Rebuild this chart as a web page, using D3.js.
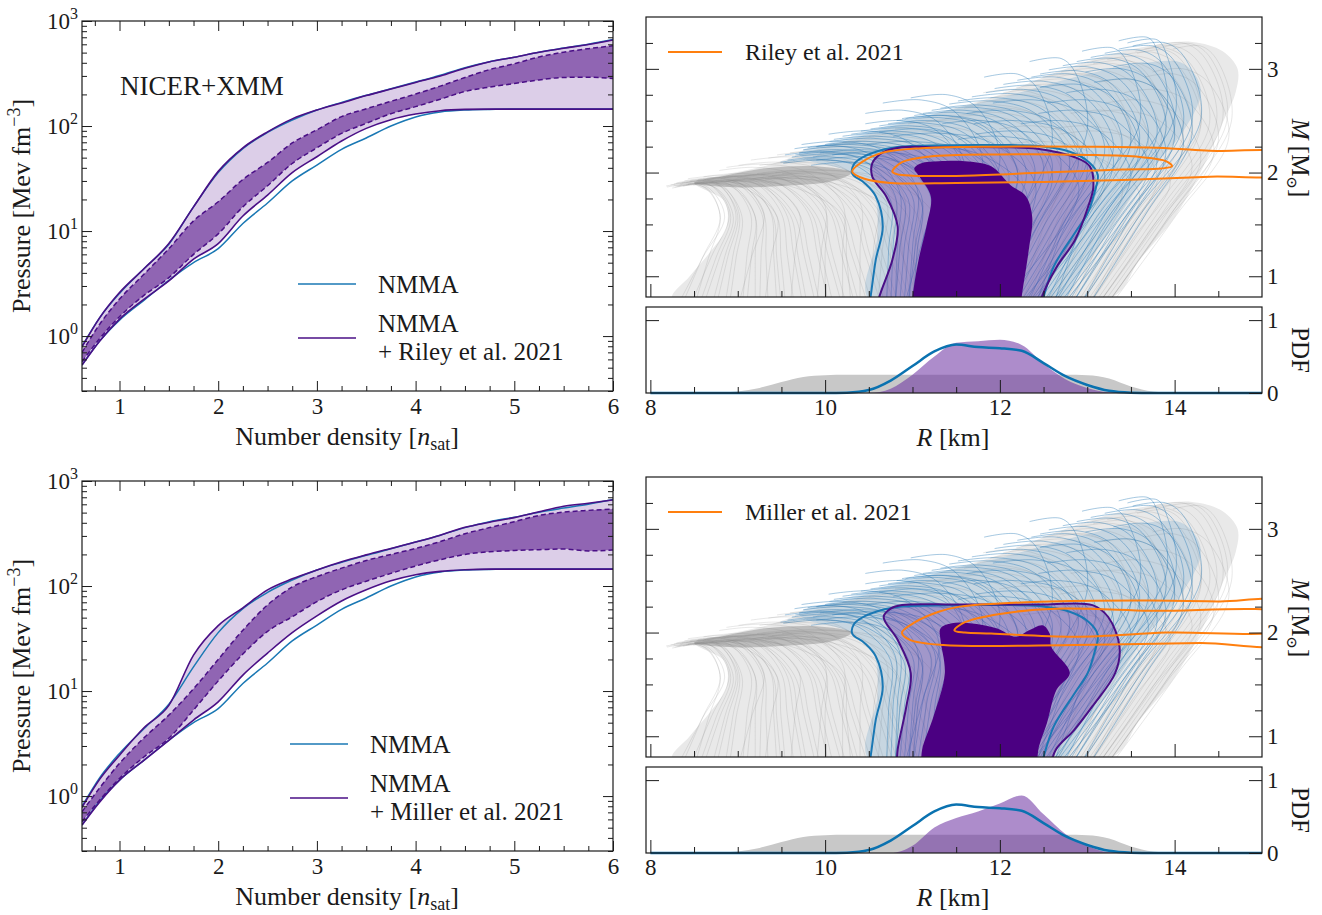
<!DOCTYPE html>
<html><head><meta charset="utf-8">
<script src="https://cdn.jsdelivr.net/npm/d3@7"></script>
<style>
body{margin:0;background:#fff}
svg text{font-family:"Liberation Serif","Tinos","DejaVu Serif",serif;fill:#1a1a1a}
</style>
</head><body>
<svg id="c" width="1322" height="915"></svg>
<script>
// ---------------- EOS data (pressure in MeV fm^-3 vs n/n_sat) ----------------
const nGrid = [0.62,0.8,1.0,1.25,1.5,1.75,2.0,2.25,2.5,2.75,3.0,3.25,3.5,3.75,4.0,4.25,4.5,4.75,5.0,5.25,5.5,5.75,6.0];
const nmmaUpper = [0.80,1.5,2.55,4.4,7.5,17,36,61,87,114,142,168,196,226,262,305,360,410,452,505,552,600,665];
const nmmaLower = [0.53,0.9,1.42,2.2,3.4,5.0,6.8,11.8,18.5,30,42.5,60,77,100,122,136,142,144,145,145,145,145,145];
const rileyUpper95 = [0.79,1.5,2.6,4.4,7.6,17,37,62,88,117,142,166,195,225,260,299,355,410,452,505,550,598,660];
const rileyUpper68 = [0.70,1.3,2.25,3.9,6.8,12.5,19,31,45,69,92,123,146,172,202,240,290,345,392,455,505,545,580];
const rileyLower68 = [0.57,0.95,1.53,2.45,3.6,6.0,9.4,17,27,44,62,85,106,131,153,180,213,235,254,275,290,292,283];
const rileyLower95 = [0.53,0.9,1.45,2.25,3.35,5.4,7.6,13.9,22,36,51,72,95,115,130,140,144,145,145,145,145,145,145];
const millerUpper95 = [0.78,1.45,2.45,4.5,7.3,22,42,62,92,117,142,170,198,228,262,305,362,405,448,510,575,615,660];
const millerUpper68 = [0.71,1.2,2.05,3.6,5.9,10.5,20,38,66,98,123,148,175,200,228,265,315,360,410,470,505,525,540];
const millerLower68 = [0.57,0.92,1.47,2.37,3.55,6.6,12.5,22.5,37,51,71,92,111,132,155,178,200,212,218,222,225,216,220];
const millerLower95 = [0.53,0.88,1.42,2.2,3.4,5.3,7.9,14.2,23,36,52,72,92,112,128,138,143,145,145,145,145,145,145];

const eosXTicks = [1,2,3,4,5,6];
const eosYTicks = [1,10,100,1000];
const eosYTickExp = ["0","1","2","3"];

// ---------------- M-R data ----------------
// each curve: [R at bottom, R at bulge, R at max mass, max mass]
const grayCurves = [
 [8.3,8.85,8.5,1.9],[8.45,8.9,8.55,1.91],[8.6,8.95,8.6,1.89],[8.75,9.0,8.6,1.92],[8.9,9.05,8.65,1.9],
 [9.05,9.15,8.7,1.93],[9.2,9.2,8.75,1.91],[9.35,9.3,8.8,1.94],[9.5,9.4,8.8,1.92],[9.65,9.5,8.9,1.95],
 [9.8,9.6,8.9,1.93],[9.95,9.7,9.0,1.96],[10.1,9.85,9.1,1.94],[10.25,9.95,9.2,1.97],[10.4,10.1,9.3,1.95],
 [10.55,10.2,9.4,1.98],[10.7,10.35,9.5,2.0],[10.85,10.5,9.6,1.97],[11.0,10.6,9.7,2.01],[11.2,10.8,9.8,1.99],
 [11.4,11.0,9.9,2.03],[9.0,9.3,8.75,1.95],[9.6,9.7,8.85,1.97],[10.0,10.0,9.05,1.99],[8.5,8.8,8.55,1.88],
 [9.3,9.45,8.7,1.9],[10.3,10.2,9.0,1.92],[11.0,10.8,9.4,1.95],
 [8.35,8.8,8.5,1.89],[8.55,8.92,8.58,1.9],[8.7,8.98,8.62,1.93],[8.85,9.02,8.66,1.92],[9.1,9.2,8.72,1.9],
 [9.25,9.28,8.76,1.93],[9.45,9.38,8.82,1.95],[9.55,9.45,8.86,1.91],[9.75,9.55,8.92,1.96],[9.9,9.65,8.98,1.92],
 [10.05,9.8,9.05,1.97],[10.2,9.9,9.15,1.93],[10.35,10.05,9.25,1.98],[10.5,10.15,9.35,1.94],[10.65,10.3,9.45,1.99],
 [10.8,10.45,9.55,1.95],[10.95,10.55,9.65,2.02],[11.1,10.7,9.75,1.96],[11.3,10.9,9.85,2.0],[11.6,11.2,10.0,2.02],
 [10.2,10.2,9.3,2.08],[10.5,10.6,9.6,2.15],[10.8,10.9,9.9,2.2],[11.1,11.2,10.2,2.25],[11.3,11.5,10.5,2.3],
 [11.6,11.8,10.8,2.35],[11.8,12.1,11.1,2.4],[12.0,12.4,11.4,2.5],[12.2,12.7,11.8,2.55],[11.0,11.1,10.0,2.12],
 [11.5,11.6,10.4,2.2],[9.9,10.0,9.2,2.05],[10.6,10.7,9.7,2.1],[11.9,12.0,10.9,2.3],[12.4,12.9,12.1,2.62],
 [10.4,10.4,9.45,2.1],[10.7,10.8,9.8,2.17],[11.0,11.05,10.05,2.22],[11.2,11.35,10.35,2.27],[11.45,11.65,10.65,2.32],
 [11.7,11.95,10.95,2.38],[11.9,12.25,11.25,2.45],[12.1,12.55,11.6,2.52],[12.3,12.85,11.95,2.58],
 [12.0,12.8,12.0,2.65],[12.2,13.1,12.3,2.75],[12.4,13.4,12.6,2.85],[12.6,13.7,12.9,2.95],[12.8,14.0,13.3,3.05],
 [12.9,14.2,13.6,3.12],[13.0,14.4,13.9,3.2],[13.1,14.55,14.1,3.25],[13.2,14.65,14.3,3.22],[12.5,13.9,13.4,3.1],
 [12.7,14.3,13.9,3.18],[11.8,12.9,12.2,2.8],[12.3,13.5,13.0,2.95],[13.0,14.1,13.5,2.9],[13.1,14.3,13.6,2.7],
 [13.2,14.5,14.0,2.95],[12.9,13.9,13.2,2.6],[12.6,13.2,12.4,2.45],[13.0,13.8,13.0,2.45],[12.8,13.4,12.5,2.3],
 [12.1,12.95,12.15,2.7],[12.3,13.25,12.45,2.8],[12.5,13.55,12.75,2.9],[12.7,13.85,13.1,3.0],[12.85,14.1,13.45,3.08],
 [12.95,14.3,13.75,3.16],[13.05,14.48,14.0,3.22],[13.15,14.6,14.2,3.24],[13.25,14.62,14.1,3.0],[13.2,14.45,13.8,2.8],
 [13.1,14.2,13.4,2.6],[13.0,13.95,13.1,2.4],[12.9,13.6,12.7,2.2]
];
const blueCurves = [
 [10.8,10.9,10.0,2.12],[10.9,11.0,10.1,2.18],[11.0,11.2,10.2,2.22],[11.1,11.3,10.3,2.27],[11.2,11.5,10.5,2.3],
 [11.3,11.6,10.6,2.35],[11.4,11.8,10.8,2.4],[11.5,11.9,11.0,2.45],[11.6,12.1,11.2,2.5],[11.7,12.3,11.4,2.55],
 [11.8,12.5,11.6,2.6],[11.9,12.7,11.8,2.65],[12.0,12.9,12.0,2.72],[12.1,13.1,12.3,2.8],[12.2,13.3,12.5,2.88],
 [12.3,13.5,12.8,2.95],[12.4,13.7,13.0,3.02],[12.5,13.9,13.3,3.1],[12.6,14.1,13.6,3.18],[12.7,14.3,13.9,3.25],
 [12.2,13.9,13.7,3.3],[11.0,11.1,10.3,2.1],[11.3,11.4,10.4,2.15],[11.6,11.7,10.6,2.2],[11.9,12.1,11.0,2.3],
 [12.1,12.4,11.3,2.38],[11.5,12.0,11.1,2.42],[12.0,12.6,11.8,2.5],[12.3,13.0,12.1,2.6],[12.5,13.3,12.4,2.7],
 [12.6,13.6,12.9,2.85],[12.8,14.0,13.4,3.0],[11.2,11.6,10.9,2.6],[11.4,12.0,11.4,2.75],[11.7,12.6,12.2,2.95],
 [11.9,13.0,12.7,3.1],[10.9,11.3,10.5,2.4],[11.1,11.6,10.9,2.5],[12.4,13.2,12.2,2.5],[12.0,12.3,11.2,2.25],
 [10.85,10.95,10.05,2.15],[10.95,11.1,10.15,2.2],[11.05,11.25,10.25,2.25],[11.15,11.4,10.4,2.28],[11.25,11.55,10.55,2.33],
 [11.35,11.7,10.7,2.38],[11.45,11.85,10.9,2.43],[11.55,12.0,11.1,2.48],[11.65,12.2,11.3,2.53],[11.75,12.4,11.5,2.58],
 [11.85,12.6,11.7,2.63],[11.95,12.8,11.9,2.69],[12.05,13.0,12.15,2.76],[12.15,13.2,12.4,2.84],[12.25,13.4,12.65,2.92],
 [12.35,13.6,12.9,2.98],[12.45,13.8,13.15,3.06],[12.55,14.0,13.45,3.14],[12.65,14.2,13.75,3.22],[12.3,14.0,13.8,3.28],
 [12.0,13.6,13.3,3.2],[12.8,13.8,13.0,2.7],[12.7,13.5,12.7,2.5],[12.9,13.9,13.2,2.8],[12.4,12.9,12.0,2.35],
 [11.2,11.3,10.35,2.18],[11.4,11.5,10.45,2.22],[11.8,12.2,11.35,2.55],[11.3,11.8,11.1,2.7],[12.6,13.1,12.2,2.4],
 [10.7,10.75,9.95,2.13],[10.75,10.8,10.0,2.2],[10.8,10.85,10.1,2.26],[10.95,11.05,10.2,2.3],[12.9,14.1,13.5,2.9],
 [13.0,14.2,13.7,3.05],[12.75,13.7,12.9,2.6]
];
const grayEnvelope = [[8.25,0.78],[8.45,1.0],[8.7,1.25],[8.87,1.47],[8.85,1.72],[8.5,1.9],[8.8,1.97],[9.3,2.06],
 [9.7,2.17],[10.25,2.31],[10.9,2.48],[11.4,2.6],[12.0,2.75],[12.5,2.92],[13.1,3.1],[13.7,3.22],[14.2,3.26],
 [14.55,3.17],[14.72,3.0],[14.7,2.78],[14.55,2.48],[14.33,2.06],[14.0,1.57],[13.6,1.16],[13.25,0.78]];
const blueEnvelope = [[10.5,0.78],[10.6,1.4],[10.55,1.8],[10.3,2.0],[9.8,2.12],[9.7,2.18],[10.2,2.32],[11.0,2.52],
 [12.0,2.72],[13.0,2.95],[13.6,3.05],[14.1,3.05],[14.3,2.8],[14.1,2.4],[13.7,2.0],[13.3,1.5],[12.9,1.0],[12.7,0.78]];
const tongue = [[8.5,1.9],[8.9,1.86],[9.5,1.87],[10.1,1.92],[10.3,2.0],[9.9,2.06],[9.3,2.04],[8.8,1.96]];

const nmmaContour = [[10.5,0.7],[10.52,0.8],[10.58,1.16],[10.66,1.48],[10.58,1.77],[10.45,1.9],[10.31,1.99],[10.33,2.08],
 [10.46,2.16],[10.77,2.24],[11.2,2.26],[12.0,2.265],[12.45,2.255],[12.8,2.2],[13.02,2.1],[13.12,1.98],[13.08,1.8],
 [13.0,1.6],[12.86,1.42],[12.62,1.1],[12.5,0.8],[12.47,0.7]];
const riley95 = [[10.6,0.7],[10.62,0.8],[10.77,1.16],[10.83,1.48],[10.7,1.77],[10.54,1.96],[10.54,2.09],[10.65,2.19],
 [10.84,2.24],[11.3,2.245],[12.0,2.245],[12.43,2.23],[12.85,2.15],[13.03,2.06],[13.07,1.86],[13.01,1.67],[12.86,1.35],
 [12.65,1.09],[12.48,0.8],[12.45,0.7]];
const riley68 = [[10.99,0.7],[11.0,0.8],[11.07,1.16],[11.16,1.48],[11.21,1.77],[11.08,1.96],[11.02,2.04],[11.1,2.09],
 [11.3,2.11],[11.6,2.11],[11.9,2.06],[12.12,1.88],[12.3,1.77],[12.37,1.57],[12.33,1.25],[12.25,0.8],[12.24,0.7]];
const rileyOuter = [[10.31,2.01],[10.42,2.1],[10.65,2.19],[11.1,2.235],[12.0,2.25],[13.0,2.25],[13.8,2.24],[14.4,2.21],
 [15.3,2.17],[15.3,2.0],[14.4,1.96],[13.5,1.93],[12.5,1.91],[11.5,1.9],[10.75,1.9],[10.45,1.94]];
const rileyInner = [[10.77,2.01],[10.88,2.1],[11.2,2.155],[12.0,2.175],[13.0,2.17],[13.6,2.15],[13.9,2.11],[13.97,2.06],
 [13.85,2.04],[13.4,2.03],[12.5,2.0],[11.6,1.97],[11.0,1.97],[10.82,1.985]];
const miller95 = [[10.82,0.7],[10.83,0.87],[10.93,1.29],[10.98,1.61],[10.83,1.93],[10.67,2.15],[10.75,2.23],[10.88,2.265],
 [11.5,2.27],[12.5,2.27],[13.06,2.265],[13.24,2.15],[13.37,1.86],[13.32,1.61],[13.06,1.29],[12.85,1.06],[12.64,0.87],[12.58,0.7]];
const miller68 = [[11.1,0.7],[11.11,0.87],[11.24,1.19],[11.37,1.61],[11.32,1.93],[11.32,2.04],[11.45,2.09],[11.66,2.09],
 [11.97,2.04],[12.18,1.96],[12.33,2.02],[12.49,2.07],[12.57,1.99],[12.59,1.86],[12.8,1.61],[12.65,1.45],[12.54,1.13],
 [12.44,0.87],[12.43,0.7]];
const millerOuter = [[10.88,2.0],[11.03,2.1],[11.3,2.2],[11.54,2.25],[12.0,2.28],[12.57,2.3],[13.71,2.31],[14.5,2.3],
 [15.3,2.28],[15.3,1.91],[14.29,1.9],[12.86,1.88],[11.35,1.88],[10.97,1.93]];
const millerInner = [[11.48,2.02],[11.6,2.1],[12.0,2.18],[12.64,2.23],[13.71,2.21],[15.3,2.17],[15.3,2.04],[13.9,2.0],
 [12.86,1.96],[11.9,1.99],[11.6,2.0]];

// ---------------- PDF data ----------------
const pdfR = [8,8.25,8.5,8.75,9,9.25,9.5,9.75,10,10.25,10.5,10.75,11,11.25,11.5,11.75,12,12.25,12.5,12.75,13,13.25,13.5,13.75,14,14.25,14.5,14.75,15];
const priorPdf = [0,0,0,0.003,0.02,0.07,0.15,0.22,0.245,0.25,0.25,0.25,0.25,0.25,0.25,0.25,0.25,0.25,0.25,0.25,0.245,0.2,0.09,0.02,0,0,0,0,0];
const nmmaPdf = [0,0,0,0,0,0,0,0,0,0.005,0.04,0.17,0.37,0.57,0.665,0.63,0.615,0.58,0.41,0.23,0.11,0.03,0.005,0,0,0,0,0,0];
const rileyPdf = [0,0,0,0,0,0,0,0,0,0,0,0.06,0.25,0.5,0.69,0.71,0.73,0.66,0.4,0.19,0.07,0.01,0,0,0,0,0,0,0];
const millerPdf = [0,0,0,0,0,0,0,0,0,0,0,0,0.1,0.35,0.48,0.57,0.68,0.79,0.53,0.26,0.1,0.01,0,0,0,0,0,0,0];

const rTicks = [8,10,12,14];
const mTicks = [1,2,3];
const pdfTicks = [0,1];

// ---------------- styling ----------------
const SERIF = "'Liberation Serif','Tinos','DejaVu Serif',serif";
const INK = "#1a1a1a";
const BLUE = "#1a78b4";
const PURPLE = "#4a0f86";
const ORANGE = "#ff7f0e";
const svg = d3.select("#c");

function tickAxis(g, axisFn, scale, vals, size, tf) {
  const a = g.append("g").attr("transform", tf)
    .call(axisFn(scale).tickValues(vals).tickSize(-size).tickFormat(""));
  a.select(".domain").remove();
  a.selectAll("line").attr("stroke", INK).attr("stroke-width", 1);
  return a;
}
function labelAxis(g, axisFn, scale, vals, pad, tf, size) {
  const a = g.append("g").attr("transform", tf)
    .call(axisFn(scale).tickValues(vals).tickSize(0).tickPadding(pad).tickFormat(d3.format("d")));
  a.attr("font-family", SERIF).attr("font-size", size);
  a.select(".domain").remove();
  a.selectAll("text").style("font-family", SERIF).style("font-size", size + "px").attr("fill", INK);
  return a;
}
function range(a, b, s) { const r = []; for (let v = a; v <= b + 1e-9; v += s) r.push(+v.toFixed(4)); return r; }
function txt(g) { return g.append("text").style("font-family", SERIF); }

// ---------------- EOS panel ----------------
function drawEOS(y0, up95, up68, lo68, lo95, extra, withTitle) {
  const x = d3.scaleLinear().domain([0.62, 6]).range([82, 613]);
  const y = d3.scaleLog().domain([0.3, 1000]).range([y0 + 370, y0]);
  const g = svg.append("g");
  const cid = "ce" + y0;
  svg.append("clipPath").attr("id", cid).append("rect").attr("x", 82).attr("y", y0).attr("width", 531).attr("height", 370);
  const gp = g.append("g").attr("clip-path", `url(#${cid})`);
  const area = (a, b) => d3.area().x((d, i) => x(nGrid[i])).y0((d, i) => y(b[i])).y1((d, i) => y(a[i])).curve(d3.curveMonotoneX)(nGrid);
  const line = arr => d3.line().x((d, i) => x(nGrid[i])).y((d, i) => y(arr[i])).curve(d3.curveMonotoneX)(nGrid);
  gp.append("path").attr("d", area(up95, lo95)).attr("fill", "#dccee8");
  gp.append("path").attr("d", area(up68, lo68)).attr("fill", "#9065b3");
  [nmmaUpper, nmmaLower].forEach(a => gp.append("path").attr("d", line(a)).attr("fill", "none").attr("stroke", BLUE).attr("stroke-width", 1.5));
  [up95, lo95].forEach(a => gp.append("path").attr("d", line(a)).attr("fill", "none").attr("stroke", PURPLE).attr("stroke-width", 1.6));
  [up68, lo68].forEach(a => gp.append("path").attr("d", line(a)).attr("fill", "none").attr("stroke", PURPLE).attr("stroke-width", 1.5).attr("stroke-dasharray", "5,3"));

  g.append("rect").attr("x", 82).attr("y", y0).attr("width", 531).attr("height", 370).attr("fill", "none").attr("stroke", INK).attr("stroke-width", 1.2);
  const xMinor = range(0.75, 5.75, 0.25).filter(v => Math.abs(v - Math.round(v)) > 1e-6);
  const yMinor = [];
  [0.1, 1, 10, 100].forEach(p => { for (let k = 2; k <= 9; k++) { const v = k * p; if (v >= 0.3 && v < 1000) yMinor.push(v); } });
  tickAxis(g, d3.axisBottom, x, eosXTicks, 10, `translate(0,${y0 + 370})`);
  tickAxis(g, d3.axisBottom, x, xMinor, 5, `translate(0,${y0 + 370})`);
  tickAxis(g, d3.axisTop, x, eosXTicks, 10, `translate(0,${y0})`);
  tickAxis(g, d3.axisTop, x, xMinor, 5, `translate(0,${y0})`);
  tickAxis(g, d3.axisLeft, y, eosYTicks, 10, `translate(82,0)`);
  tickAxis(g, d3.axisLeft, y, yMinor, 5, `translate(82,0)`);
  tickAxis(g, d3.axisRight, y, eosYTicks, 10, `translate(613,0)`);
  tickAxis(g, d3.axisRight, y, yMinor, 5, `translate(613,0)`);
  labelAxis(g, d3.axisBottom, x, eosXTicks, 7, `translate(0,${y0 + 370})`, 23);
  eosYTicks.forEach((v, i) => {
    const t = txt(g).attr("x", 78).attr("y", y(v) + 8).attr("text-anchor", "end").attr("font-size", 23);
    t.append("tspan").text("10");
    t.append("tspan").attr("font-size", 16).attr("dy", -10).text(eosYTickExp[i]);
  });
  const xl = txt(g).attr("x", 347).attr("y", y0 + 424).attr("text-anchor", "middle").attr("font-size", 26);
  xl.append("tspan").text("Number density [");
  xl.append("tspan").attr("font-style", "italic").text("n");
  xl.append("tspan").attr("font-size", 18).attr("dy", 5).text("sat");
  xl.append("tspan").attr("dy", -5).text("]");
  const yl = txt(g).attr("transform", `translate(30,${y0 + 185}) rotate(-90)`).attr("text-anchor", "middle").attr("font-size", 26);
  yl.append("tspan").text("Pressure [Mev fm");
  yl.append("tspan").attr("font-size", 18).attr("dy", -10).text("\u22123");
  yl.append("tspan").attr("dy", 10).text("]");
  if (withTitle) txt(g).attr("x", 120).attr("y", y0 + 74).attr("font-size", 27).text("NICER+XMM");
  const lx = extra.lx, ly = y0 + extra.dy;
  g.append("line").attr("x1", lx).attr("x2", lx + 58).attr("y1", ly).attr("y2", ly).attr("stroke", BLUE).attr("stroke-width", 1.6);
  txt(g).attr("x", lx + 80).attr("y", ly + 9).attr("font-size", 25).text("NMMA");
  g.append("line").attr("x1", lx).attr("x2", lx + 58).attr("y1", ly + 54).attr("y2", ly + 54).attr("stroke", PURPLE).attr("stroke-width", 1.6);
  txt(g).attr("x", lx + 80).attr("y", ly + 48).attr("font-size", 25).text("NMMA");
  txt(g).attr("x", lx + 80).attr("y", ly + 76).attr("font-size", 25).text(extra.label);
}

// ---------------- M-R + PDF panel ----------------
function drawMR(y0, c95, c68, outer, inner, pdfPost, legendLabel) {
  const x = d3.scaleLinear().domain([7.95, 15]).range([646, 1262]);
  const y = d3.scaleLinear().domain([0.8, 3.5]).range([y0 + 280, y0]);
  const yp = d3.scaleLinear().domain([0, 1.18]).range([y0 + 376, y0 + 290]);
  const g = svg.append("g");
  const cid = "cm" + y0;
  svg.append("clipPath").attr("id", cid).append("rect").attr("x", 646).attr("y", y0).attr("width", 616).attr("height", 280);
  const gp = g.append("g").attr("clip-path", `url(#${cid})`);
  const pline = d3.line().x(d => x(d[0])).y(d => y(d[1])).curve(d3.curveCatmullRom.alpha(0.5));
  const pclosed = d3.line().x(d => x(d[0])).y(d => y(d[1])).curve(d3.curveCatmullRomClosed.alpha(0.5));
  const curvePts = (c, tail) => {
    const [R0, R1, Rt, Mx] = c, d = Mx - 0.8;
    return [[R0, 0.7], [R0 * 0.45 + R1 * 0.55, 0.8 + 0.35 * d], [R1, 0.8 + 0.7 * d],
      [R1 - 0.45 * (R1 - Rt), 0.8 + 0.94 * d], [Rt, Mx], [Rt - tail - 0.2 * (R1 - Rt), Mx - 0.03]];
  };
  gp.append("path").attr("d", pclosed(grayEnvelope)).attr("fill", "#e9e9e9");
  gp.append("path").attr("d", pclosed(tongue)).attr("fill", "#a0a0a0").attr("fill-opacity", 0.6);
  grayCurves.forEach(c => gp.append("path").attr("d", pline(curvePts(c, 0.25))).attr("fill", "none")
    .attr("stroke", "#858585").attr("stroke-opacity", 0.24).attr("stroke-width", 0.8));
  gp.append("path").attr("d", pclosed(blueEnvelope)).attr("fill", "#4f93c6").attr("fill-opacity", 0.22);
  blueCurves.forEach(c => gp.append("path").attr("d", pline(curvePts(c, 0.3))).attr("fill", "none")
    .attr("stroke", "#2277b4").attr("stroke-opacity", 0.45).attr("stroke-width", 0.9));
  gp.append("path").attr("d", pline(c95) + "Z").attr("fill", "#6a3aa8").attr("fill-opacity", 0.4);
  gp.append("path").attr("d", pline(nmmaContour)).attr("fill", "none").attr("stroke", BLUE).attr("stroke-width", 2);
  gp.append("path").attr("d", pline(c95)).attr("fill", "none").attr("stroke", PURPLE).attr("stroke-width", 2);
  gp.append("path").attr("d", pline(c68) + "Z").attr("fill", "#4b0082");
  [outer, inner].forEach(o => gp.append("path").attr("d", pclosed(o)).attr("fill", "none").attr("stroke", ORANGE).attr("stroke-width", 2));
  g.append("rect").attr("x", 646).attr("y", y0).attr("width", 616).attr("height", 280).attr("fill", "none").attr("stroke", INK).attr("stroke-width", 1.2);
  const mMinor = [1.25, 1.5, 1.75, 2.25, 2.5, 2.75, 3.25];
  const rMinor = range(8.5, 14.5, 0.5).filter(v => rTicks.indexOf(v) < 0);
  tickAxis(g, d3.axisLeft, y, mTicks, 13, `translate(646,0)`);
  tickAxis(g, d3.axisLeft, y, mMinor, 7, `translate(646,0)`);
  tickAxis(g, d3.axisRight, y, mTicks, 13, `translate(1262,0)`);
  tickAxis(g, d3.axisRight, y, mMinor, 7, `translate(1262,0)`);
  tickAxis(g, d3.axisBottom, x, rTicks, 13, `translate(0,${y0 + 280})`);
  tickAxis(g, d3.axisBottom, x, rMinor, 6, `translate(0,${y0 + 280})`);
  labelAxis(g, d3.axisRight, y, mTicks, 5, `translate(1262,0)`, 23);
  g.append("line").attr("x1", 668).attr("x2", 722).attr("y1", y0 + 35).attr("y2", y0 + 35).attr("stroke", ORANGE).attr("stroke-width", 2);
  txt(g).attr("x", 745).attr("y", y0 + 43).attr("font-size", 24).text(legendLabel);
  const ml = txt(g).attr("transform", `translate(1292,${y0 + 141}) rotate(90)`).attr("text-anchor", "middle").attr("font-size", 25);
  ml.append("tspan").attr("font-style", "italic").text("M");
  ml.append("tspan").text(" [M");
  ml.append("tspan").attr("font-size", 15).attr("dy", 5).style("font-family", "'DejaVu Serif',serif").text("\u2299");
  ml.append("tspan").attr("dy", -5).text("]");

  const gq = g.append("g");
  const pa = arr => d3.area().x((d, i) => x(pdfR[i])).y0(yp(0)).y1((d, i) => yp(arr[i])).curve(d3.curveMonotoneX)(pdfR);
  gq.append("path").attr("d", pa(priorPdf)).attr("fill", "#c8c8c8");
  gq.append("path").attr("d", pa(pdfPost)).attr("fill", "#6a2da0").attr("fill-opacity", 0.55);
  gq.append("path").attr("d", d3.line().x((d, i) => x(pdfR[i])).y((d, i) => yp(nmmaPdf[i])).curve(d3.curveMonotoneX)(pdfR))
    .attr("fill", "none").attr("stroke", "#0a72b0").attr("stroke-width", 2.5);
  g.append("rect").attr("x", 646).attr("y", y0 + 290).attr("width", 616).attr("height", 86).attr("fill", "none").attr("stroke", INK).attr("stroke-width", 1.2);
  tickAxis(g, d3.axisLeft, yp, [1], 13, `translate(646,0)`);
  tickAxis(g, d3.axisRight, yp, pdfTicks, 13, `translate(1262,0)`);
  tickAxis(g, d3.axisBottom, x, rTicks, 13, `translate(0,${y0 + 376})`);
  tickAxis(g, d3.axisBottom, x, rMinor, 6, `translate(0,${y0 + 376})`);
  labelAxis(g, d3.axisRight, yp, pdfTicks, 5, `translate(1262,0)`, 23);
  labelAxis(g, d3.axisBottom, x, rTicks, 6, `translate(0,${y0 + 376})`, 23);
  const rl = txt(g).attr("x", 953).attr("y", y0 + 429).attr("text-anchor", "middle").attr("font-size", 26);
  rl.append("tspan").attr("font-style", "italic").text("R");
  rl.append("tspan").text(" [km]");
  txt(g).attr("transform", `translate(1292,${y0 + 333}) rotate(90)`).attr("text-anchor", "middle").attr("font-size", 25).text("PDF");
}

drawEOS(21, rileyUpper95, rileyUpper68, rileyLower68, rileyLower95, {lx: 298, dy: 263, label: "+ Riley et al. 2021"}, true);
drawEOS(481, millerUpper95, millerUpper68, millerLower68, millerLower95, {lx: 290, dy: 263, label: "+ Miller et al. 2021"}, false);
drawMR(17, riley95, riley68, rileyOuter, rileyInner, rileyPdf, "Riley et al. 2021");
drawMR(477, miller95, miller68, millerOuter, millerInner, millerPdf, "Miller et al. 2021");
</script>
</body></html>
